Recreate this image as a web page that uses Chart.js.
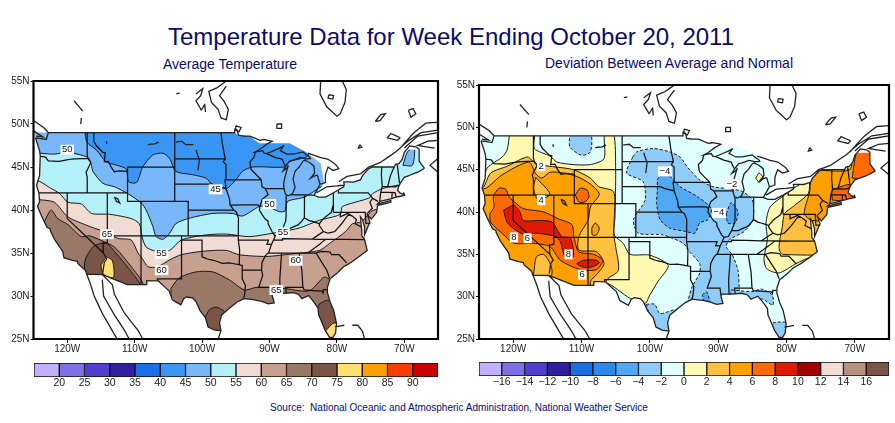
<!DOCTYPE html>
<html>
<head>
<meta charset="utf-8">
<title>Temperature Data for Week Ending October 20, 2011</title>
<script src="https://cdn.jsdelivr.net/npm/chart.js@4/dist/chart.umd.js"></script>
<style>
  body { margin: 0; background: #fff; width: 895px; height: 423px; overflow: hidden; position: relative; font-family: "Liberation Sans", Arial, sans-serif; color: #0b0b70; }
  canvas { position: absolute; }
  .txt { position: absolute; white-space: pre; text-align: center; }
</style>
</head>
<body>
<div class="txt" style="left:0;width:902px;top:23px;font-size:24px;">Temperature Data for Week Ending October 20, 2011</div>
<div class="txt" style="left:100px;width:260px;top:56px;font-size:14px;">Average Temperature</div>
<div class="txt" style="left:500px;width:338px;top:55px;font-size:14px;">Deviation Between Average and Normal</div>
<div class="txt" style="left:200px;width:518px;top:402px;font-size:10px;">Source:  National Oceanic and Atmospheric Administration, National Weather Service</div>
<canvas id="map-avg" width="445" height="295" style="left:0;top:70px"></canvas>
<canvas id="map-dev" width="450" height="295" style="left:445px;top:70px"></canvas>
<canvas id="bar-avg" width="445" height="42" style="left:0;top:353px"></canvas>
<canvas id="bar-dev" width="450" height="42" style="left:445px;top:353px"></canvas>
<script>
// axes
const lonTicks = [-120, -110, -100, -90, -80, -70];
const latTicks = [25, 30, 35, 40, 45, 50, 55];
const frameBox = [[-125, 25], [-125, 55], [-65, 55], [-65, 25], [-125, 25]];

// colour bars
const avgBarColors = ['#c0b0ff', '#8070e8', '#5040d0', '#3020a0', '#1a6ee8', '#3a96f5', '#78b8fa', '#b4f0f8', '#f0dcd2', '#c8a090', '#9a7868', '#7a5548', '#ffe070', '#ffa000', '#ff3c00', '#cc0000'];
const avgBarLabels = ['20', '25', '30', '35', '40', '45', '50', '55', '60', '65', '70', '75', '80', '85', '90'];
const devBarColors = ['#c0b0ff', '#8070e8', '#5040d0', '#3020a0', '#1a6ee0', '#2a88ee', '#50a8f5', '#90ccf8', '#e0ffff', '#fff8b0', '#ffc040', '#ffa000', '#ff6a00', '#e01a00', '#a50000', '#f0dcd2', '#b89080', '#7a5548'];
const devBarLabels = ['\u221216', '\u221214', '\u221212', '\u221210', '\u22128', '\u22126', '\u22124', '\u22122', '0', '2', '4', '6', '8', '10', '12', '14', '16'];

// coast from Maine round Florida and Texas up to Washington
const coastSouth = [[-67, 44.85], [-68, 44.4], [-69, 44.1], [-70, 43.8], [-70.6, 43.1], [-70.8, 42.8], [-71, 42.3], [-70.6, 41.95], [-70, 41.8], [-70.1, 42.05], [-69.95, 41.7], [-71.2, 41.5], [-72, 41.3], [-73.6, 41], [-74, 40.7], [-72, 41.1], [-72, 40.9], [-73.9, 40.55], [-74, 40.4], [-74.1, 39.7], [-74.9, 38.95], [-75.4, 39.4], [-75.55, 39.6], [-75.1, 38.6], [-75.9, 37.1], [-75.9, 38], [-76.2, 38.9], [-76.5, 39.2], [-76.4, 38.3], [-76.3, 37.6], [-76.3, 37], [-75.9, 36.6], [-75.5, 35.3], [-76.5, 34.7], [-77.9, 33.9], [-79, 33.4], [-79.9, 32.7], [-81, 32], [-81.4, 31], [-81.4, 30.4], [-81, 29.3], [-80.5, 28.4], [-80.05, 26.8], [-80.2, 25.7], [-80.6, 25.15], [-81.1, 25.2], [-81.8, 26.1], [-82.2, 26.9], [-82.7, 27.8], [-82.8, 28.6], [-83.6, 29.5], [-84.2, 30.05], [-85.2, 29.7], [-85.7, 30.2], [-86.5, 30.4], [-88, 30.3], [-89.4, 30.3], [-89.6, 30.1], [-89.3, 29.2], [-90.2, 29.1], [-91.3, 29.4], [-92.2, 29.55], [-93.8, 29.7], [-94.8, 29.3], [-95.9, 28.6], [-97.1, 27.8], [-97.4, 26.9], [-97.2, 25.95], [-98.2, 26.05], [-99.1, 26.4], [-99.5, 27.5], [-100.3, 28.3], [-100.9, 29.35], [-101.4, 29.77], [-102.3, 29.88], [-102.7, 29.7], [-103.15, 28.98], [-104.4, 29.55], [-104.9, 30.6], [-106.5, 31.75], [-108.2, 31.78], [-108.2, 31.33], [-111.07, 31.33], [-114.8, 32.5], [-117.1, 32.53], [-117.3, 33], [-118.4, 33.75], [-118.5, 34.03], [-119.2, 34.15], [-120.5, 34.45], [-120.65, 35.15], [-121.9, 36.6], [-122.5, 37.6], [-122.5, 37.8], [-123, 38], [-123.8, 39.3], [-124.4, 40.4], [-124.1, 41], [-124.2, 42], [-124.55, 42.85], [-124.1, 44], [-124, 46.3], [-124.1, 46.9], [-124.7, 48.4]];
// north edge of the plotted field, it runs over the upper lakes
const fieldNorth = [[-124.8, 49], [-95.15, 49], [-94.6, 48.7], [-93, 48.6], [-91.5, 47.75], [-87, 47.75], [-84.3, 46.6], [-82.4, 45.4], [-81.9, 43.3], [-82.6, 42.1], [-83.4, 41.5], [-82.7, 41.5], [-81.7, 41.5], [-80.5, 42], [-79, 42.7], [-78.9, 43.2], [-77.5, 43.3], [-76.5, 43.5], [-76.2, 44], [-75.3, 44.8], [-74.7, 45], [-71.5, 45], [-71, 45.3], [-70.3, 45.9], [-70, 46.7], [-69.5, 47], [-67.8, 47], [-67.8, 45.7], [-67.45, 45.3], [-67, 44.85]];

// black base map lines
const coastNorth = [[-124.7, 48.4], [-123.1, 48.2], [-122.8, 49], [-95.15, 49], [-95.15, 49.4], [-94.8, 49.3], [-94.6, 48.7], [-93.8, 48.6], [-92.9, 48.6], [-92, 48.3], [-91.4, 48.1], [-90.8, 48.2], [-89.6, 48], [-90.5, 47.6], [-91.5, 47], [-92.1, 46.75], [-91, 46.9], [-90.8, 46.6], [-90.4, 46.55], [-89.5, 46.85], [-88.5, 47.2], [-87.9, 47.47], [-88.4, 46.9], [-87.4, 46.5], [-86.5, 46.5], [-85, 46.75], [-84.6, 46.45], [-84.1, 46.2], [-83.9, 45.97], [-84.7, 45.95], [-85.5, 46.1], [-86.5, 45.8], [-87, 45.7], [-87.6, 45.1], [-88, 44.55], [-87.4, 44.9], [-87.2, 45.2], [-87.5, 44.4], [-87.8, 43.5], [-87.9, 43], [-87.8, 42.3], [-87.6, 41.8], [-87.2, 41.65], [-86.6, 41.9], [-86.2, 42.6], [-86.5, 43.6], [-86.2, 44.5], [-85.6, 45], [-85, 45.7], [-84.7, 45.78], [-84, 45.5], [-83.4, 45.1], [-83.3, 44.3], [-83.9, 43.7], [-83.4, 43.95], [-82.9, 44.05], [-82.5, 43], [-82.9, 42.4], [-83.2, 42], [-83.4, 41.7], [-82.7, 41.5], [-81.7, 41.5], [-80.5, 42], [-79, 42.7], [-78.9, 43], [-79, 43.27], [-77.5, 43.25], [-76.5, 43.5], [-76.2, 44], [-75.3, 44.8], [-74.7, 45], [-71.5, 45], [-71.3, 45.3], [-70.8, 45.4], [-70.3, 45.9], [-70, 46.7], [-69.2, 47.45], [-68.3, 47.35], [-67.8, 47.07], [-67.8, 45.7], [-67.45, 45.3], [-67, 44.85]];
const canadaLines = [
  [[-84.3, 46.6], [-82.4, 46.1], [-81.3, 45.9], [-80.2, 45.3], [-79.7, 44.8], [-80.6, 44.6], [-81.3, 45], [-81.7, 44.1], [-81.7, 43.2], [-82.4, 43]],
  [[-83, 42], [-81.5, 42.7], [-80, 42.8], [-79, 42.9]],
  [[-79.7, 43.3], [-78.5, 43.9], [-76.5, 44.2], [-75.3, 45], [-73.6, 45.5], [-71.2, 46.8], [-69.5, 48], [-67.5, 49], [-65, 49.3]],
  [[-70, 47.2], [-68, 48.6], [-65, 49]],
  [[-65, 48.1], [-66.5, 48], [-68, 47.5], [-65.5, 47.2]],
  [[-65, 46], [-66.2, 45.2], [-65, 44.4]],
  [[-65, 50.2], [-66.8, 50.1], [-68.7, 48.9], [-70.7, 47.1]],
  [[-70.6, 48.4], [-72, 48.9], [-72.5, 48.4], [-71, 48.1], [-70.6, 48.4]],
  [[-76.6, 47.6], [-76.3, 47.3], [-76.8, 47.2], [-76.6, 47.6]],
  [[-74.3, 50.3], [-73.5, 51.1], [-72.8, 51.2], [-73.6, 50.4], [-74.3, 50.3]],
  [[-69.4, 51.6], [-68.7, 51.8], [-68.3, 51.2], [-69, 50.8], [-69.4, 51.6]],
  [[-82.4, 55], [-82.5, 53.5], [-81.5, 52], [-80, 50.9], [-79.5, 51.2], [-78.8, 52.5], [-78.6, 54], [-79.2, 55]],
  [[-81.2, 53.4], [-80.5, 53.3], [-80.6, 52.9], [-81.3, 53], [-81.2, 53.4]],
  [[-88.9, 50], [-88.2, 50], [-88.2, 49.5], [-88.9, 49.5], [-88.9, 50]],
  [[-95, 49.8], [-94.2, 49.6], [-94.5, 49.1], [-95, 49.3], [-95, 49.8]],
  [[-96.4, 55], [-97.8, 54.2], [-99, 53.8], [-98.6, 52.5], [-97.6, 51.7], [-97.2, 50.7], [-96.4, 50.5], [-96.1, 51.7], [-96.7, 52.6], [-97.4, 53.3], [-96.4, 54.4]],
  [[-100.9, 53.5], [-99.9, 54.1], [-100.2, 53.3], [-100.9, 52.7], [-100.1, 51.6], [-99.6, 52.3], [-99.5, 51.4]],
  [[-103.8, 53.5], [-103.3, 53.6]],
  [[-119, 52.7], [-117.7, 51.5]],
  [[-117.9, 50.7], [-118, 50]],
  [[-125, 50.4], [-123.5, 49.6], [-122.8, 49]],
  [[-125, 49.2], [-123.6, 48.5], [-124.6, 48.6]]
];
const mexicoLines = [
  [[-117.1, 32.53], [-116.6, 31.5], [-116, 30], [-114.8, 28], [-112.6, 25]],
  [[-114.8, 31.9], [-114.6, 30], [-113, 27.8], [-111.5, 26], [-110.8, 25]],
  [[-114.8, 32.5], [-113.3, 31.3], [-113, 30.2], [-111.5, 28], [-109.5, 26], [-108.8, 25]],
  [[-97.2, 25.95], [-97.6, 25]],
  [[-77.7, 26.6], [-76.9, 26.6], [-76.2, 25.9], [-75.9, 25]],
  [[-80.3, 26.4], [-78.9, 26.6]]
];
const inlandLakes = [
  [[-113, 41.5], [-112.5, 41.3], [-112.2, 40.8], [-112.7, 41], [-113, 41.5]],
  [[-114.2, 48], [-114.1, 47.7]],
  [[-108, 47.6], [-107, 47.7], [-106.4, 47.9]],
  [[-103.9, 47.9], [-103, 48], [-102.4, 47.6], [-101.3, 47.6]],
  [[-100.9, 47], [-100.4, 45.8], [-100.6, 44.6]]
];
const stateLines = [
  [[-124, 46.25], [-123.2, 46.15], [-122.8, 45.7], [-121.2, 45.65], [-119.3, 45.93], [-116.92, 46]],
  [[-117.03, 49], [-117.04, 46.4], [-116.92, 46], [-116.5, 45.5], [-117.2, 44.4], [-117.03, 43.8], [-117.03, 42]],
  [[-116.05, 49], [-116.05, 48], [-115.7, 47.5], [-114.7, 46.7], [-114.35, 46.65], [-114.5, 45.6], [-113.9, 45.65], [-113.45, 44.95], [-113, 44.45], [-112.3, 44.55], [-111.05, 44.48]],
  [[-111.05, 45], [-111.05, 41], [-109.05, 41]],
  [[-111.05, 45], [-104.05, 45]],
  [[-104.05, 49], [-104.05, 41]],
  [[-124.2, 42], [-111.05, 42]],
  [[-120, 42], [-120, 39], [-114.63, 35], [-114.15, 34.3], [-114.5, 33.9], [-114.72, 32.72]],
  [[-114.05, 42], [-114.05, 36.2], [-114.7, 36.1], [-114.63, 35]],
  [[-114.05, 37], [-102.04, 37]],
  [[-109.05, 41], [-109.05, 31.33]],
  [[-109.05, 41], [-102.05, 41], [-102.05, 37]],
  [[-102.05, 40], [-95.3, 40]],
  [[-103.04, 37], [-103.04, 32], [-106.62, 32], [-106.55, 31.78]],
  [[-102.04, 37], [-94.62, 37]],
  [[-103.04, 36.5], [-100, 36.5], [-100, 34.56], [-99.2, 34.3], [-98.1, 34.1], [-97, 33.8], [-96, 33.85], [-94.5, 33.65], [-94.04, 33.55], [-94.04, 31.99], [-93.55, 31.2], [-93.7, 30.1], [-93.85, 29.7]],
  [[-104.05, 45.94], [-96.56, 45.94]],
  [[-104.05, 43], [-98.5, 43], [-97.9, 42.8], [-96.45, 42.5]],
  [[-97.2, 49], [-97, 47.8], [-96.8, 46.9], [-96.56, 45.94], [-96.85, 45.6], [-96.45, 45.3], [-96.45, 43.5], [-96.6, 43.5], [-96.45, 42.5], [-96.1, 41.7], [-95.9, 41.2], [-95.85, 40.6], [-95.3, 40], [-94.9, 39.75], [-94.6, 39.1], [-94.62, 36.5], [-94.43, 35.4], [-94.48, 33.64]],
  [[-94.62, 36.5], [-90.15, 36.5], [-90.37, 36], [-89.7, 36]],
  [[-94.04, 33], [-91.17, 33]],
  [[-96.45, 43.5], [-91.22, 43.5]],
  [[-95.77, 40.58], [-91.73, 40.61], [-91.42, 40.38]],
  [[-92.1, 46.75], [-92.3, 46.1], [-92.9, 45.6], [-92.75, 44.75], [-91.22, 43.5], [-91.1, 42.7], [-90.64, 42.5], [-90.2, 41.8], [-91.1, 41.2], [-91.42, 40.38], [-91.5, 40], [-90.7, 39], [-90.2, 38.7], [-90.2, 38.4], [-89.5, 37.3], [-89.15, 37], [-89.4, 36.5], [-89.7, 36], [-90.1, 35.1], [-90.6, 34.7], [-91.1, 33.9], [-91.17, 33], [-91, 32.4], [-91.6, 31], [-89.73, 31], [-89.6, 30.2]],
  [[-90.64, 42.5], [-87.8, 42.5]],
  [[-90.4, 46.55], [-89.1, 46.1], [-88.1, 45.9], [-87.8, 45.35], [-87.6, 45.1]],
  [[-87.53, 41.7], [-87.53, 39.35], [-87.6, 38.7], [-88.05, 37.8], [-88.5, 37.1], [-89.15, 37]],
  [[-88.05, 37.8], [-87.1, 37.8], [-86.3, 38.1], [-85.75, 38.27], [-85.2, 38.7], [-84.82, 39.1], [-84.2, 38.8], [-83.3, 38.6], [-82.6, 38.4], [-82.1, 38.9], [-81.7, 39.2], [-80.85, 39.7], [-80.52, 40.64]],
  [[-80.52, 39.72], [-80.52, 42]],
  [[-84.82, 39.1], [-84.8, 41.76]],
  [[-86.82, 41.76], [-83.45, 41.73]],
  [[-89.4, 36.5], [-88.07, 36.5], [-88.07, 36.68], [-83.68, 36.6], [-81.68, 36.59], [-75.87, 36.55]],
  [[-83.68, 36.6], [-82, 37.5], [-82.6, 38.2], [-82.6, 38.4]],
  [[-82, 37.5], [-81.3, 37.3], [-80.3, 37.5], [-79.3, 38.4], [-78.35, 39.4], [-77.75, 39.32], [-77.1, 38.9], [-77.3, 38.4], [-76.3, 38]],
  [[-77.75, 39.32], [-78.4, 39.6], [-79.48, 39.2], [-79.48, 39.72]],
  [[-80.52, 39.72], [-75.79, 39.72], [-75.7, 38.46], [-75.05, 38.45]],
  [[-79.76, 42.27], [-79.76, 42], [-75.35, 42], [-74.7, 41.36], [-75.1, 40.9], [-74.75, 40.2], [-75.5, 39.6]],
  [[-74.7, 41.36], [-73.9, 41]],
  [[-73.65, 41], [-73.5, 42.05], [-73.27, 42.75], [-73.4, 44], [-73.35, 45]],
  [[-73.5, 42.05], [-71.38, 42.02], [-71.2, 41.5]],
  [[-71.8, 42.02], [-71.85, 41.3]],
  [[-73.27, 42.75], [-71.3, 42.7], [-70.8, 42.87]],
  [[-72.46, 42.73], [-72.05, 44], [-71.5, 45]],
  [[-70.7, 43.1], [-71.05, 45.3]],
  [[-84.32, 35], [-83.1, 35], [-82.3, 35.2], [-81, 35.1], [-80.8, 34.8], [-79.67, 34.8], [-78.55, 33.86]],
  [[-81.68, 36.59], [-82.6, 36], [-84.32, 35]],
  [[-83.1, 35], [-81.5, 33], [-81.1, 32.1]],
  [[-90.3, 35], [-84.32, 35]],
  [[-85.6, 35], [-85.18, 32.87], [-85.05, 31], [-87.6, 31], [-87.5, 30.3]],
  [[-85, 31], [-84.86, 30.7], [-82.2, 30.57], [-82.05, 30.36], [-82, 30.75], [-81.45, 30.72]],
  [[-88.2, 35], [-88.47, 31.9], [-88.4, 30.3]]
];

// average temperature: contours, coldest and warmest layers nested
const avgBelow50 = [[-125, 46.8], [-123.9, 46.6], [-121.9, 46.5], [-120, 46.7], [-116.9, 46.1], [-116.4, 45.2], [-116.2, 44.5], [-114.7, 43.1], [-113, 42.7], [-111, 41.9], [-109, 40.8], [-108.3, 40], [-107.3, 38.1], [-106.8, 36.9], [-105.8, 36.6], [-104.8, 37.3], [-103.9, 38.4], [-102.1, 39], [-98.4, 39.6], [-95.5, 39.6], [-94, 39.3], [-91.5, 40.4], [-90.3, 40.4], [-88.5, 39.8], [-87.7, 39.9], [-87.3, 41], [-84.8, 41.5], [-82.1, 42.8], [-80.6, 43.1], [-80.6, 49.5], [-126, 49.5], [-126, 46.8], [-125, 46.8]];
const avgBelow50Maine = [[-70.2, 45.2], [-69.5, 46.8], [-68.5, 47.2], [-68.8, 45.2], [-70.2, 45.2]];
const avgBelow45 = [[-117.4, 49.3], [-117.1, 47.9], [-115.7, 47], [-114.2, 45.6], [-111.3, 44.8], [-110.9, 43.3], [-109.7, 43.2], [-108.8, 45], [-107.3, 46.4], [-105.8, 46.6], [-104.8, 46], [-103.9, 44.5], [-101.4, 44.1], [-99.4, 43.7], [-98.4, 42.9], [-96.4, 42.5], [-95, 43.5], [-94, 44.5], [-92.5, 45], [-87.8, 45], [-87.1, 45.6], [-84.3, 46.3], [-84.1, 47.8], [-84, 49.7], [-117.4, 49.7], [-117.4, 49.3]];
const avgAbove55 = [[-125.5, 43.4], [-124.3, 43.4], [-122.6, 42.6], [-121.1, 41.9], [-119.9, 40.9], [-117.9, 40.7], [-116.4, 39.6], [-113.7, 39.5], [-110.5, 39], [-109.3, 38.4], [-108.9, 36.9], [-108.3, 35.7], [-106.8, 35.2], [-104.8, 35.3], [-103.1, 36.5], [-99.4, 37.1], [-96.4, 37.2], [-93, 36.9], [-89.5, 37.3], [-88, 37.5], [-85.6, 37.9], [-82.6, 38.8], [-80.1, 39.3], [-79.4, 39.6], [-79.2, 40.4], [-75.2, 41.4], [-74.7, 41.9], [-73.2, 42.5], [-70.8, 42.9], [-69.3, 42.9], [-66, 42.9], [-66, 24], [-125.5, 24], [-125.5, 43.4]];
const avgAbove60 = [[-125.5, 41.2], [-124.2, 41.2], [-121.9, 40.9], [-119.9, 39.2], [-116.7, 38.1], [-114.2, 37.4], [-112.5, 36.7], [-110.5, 36.5], [-109.5, 35], [-108.9, 34.4], [-108, 33.4], [-106.6, 33.4], [-104.8, 34.2], [-103.1, 34.8], [-99.9, 35.2], [-96.4, 35.3], [-94.5, 34.8], [-90.5, 34.6], [-86.6, 34.9], [-82.6, 35.3], [-81.1, 36.1], [-78.7, 37.5], [-77.7, 38.4], [-76.4, 38.6], [-74.5, 40], [-66, 40], [-66, 24], [-125.5, 24], [-125.5, 41.2]];
const avgAbove65West = [[-123.4, 38.6], [-122.4, 40], [-121.4, 39], [-119.9, 38.3], [-117.9, 36.9], [-116.7, 37], [-114.5, 36.3], [-113, 35.7], [-111.5, 34.4], [-110.3, 33.2], [-109.3, 32.2], [-108.7, 31.3], [-108.7, 30.3], [-120.2, 30.3], [-125, 36.9], [-123.4, 38.6]];
const avgAbove65East = [[-104.6, 30.9], [-103.4, 32.1], [-100.9, 32.8], [-98.4, 32.8], [-96, 31.9], [-93.7, 30.7], [-92, 31], [-88, 30.9], [-84.1, 30.6], [-81.9, 32.2], [-80.9, 31.9], [-77, 31.9], [-77, 24.5], [-104, 24.5], [-104.6, 28], [-104.6, 30.9]];
const avgAbove70West = [[-117.3, 32.2], [-117.4, 34], [-116.2, 35.7], [-114.3, 36.2], [-113, 35.2], [-111.5, 33.8], [-110.3, 32.6], [-109.3, 31.5], [-109.3, 30.3], [-117.3, 30.3], [-117.3, 32.2]];
const avgAbove70Texas = [[-99.5, 27.6], [-98.9, 28.4], [-97.9, 28.7], [-96.7, 28.2], [-96, 26.4], [-96, 24.9], [-99.5, 24.9], [-99.5, 27.6]];
const avgAbove70Florida = [[-82.6, 29.1], [-81.4, 29.5], [-80.1, 28.8], [-79.2, 26.4], [-81.4, 25.5], [-83.1, 27.6], [-82.6, 29.1]];
const avgAbove75West = [[-115, 33.6], [-114.2, 34.5], [-113.3, 34.1], [-113.1, 32.2], [-114.2, 32.2], [-114.8, 32.8], [-115, 33.6]];
const avgAbove75Florida = [[-81.6, 26], [-80.6, 26.8], [-79.9, 26.8], [-79.2, 25.3], [-80.6, 24.5], [-82.1, 25.3], [-81.6, 26]];
const avgContourLabels = [[-120, 47, '50'], [-98, 42.4, '45'], [-90, 40.7, '50'], [-88, 37.4, '55'], [-106, 34.9, '55'], [-106, 33, '60'], [-114.1, 37.2, '65'], [-86.1, 34.1, '60'], [-89, 30.7, '65']];

// deviation from normal
const devAbove0West = [[-120.5, 49.3], [-117, 49.3], [-116.9, 47.5], [-114.6, 46.6], [-113.6, 45.9], [-111.2, 45.6], [-108.7, 45.6], [-106.7, 46.3], [-106.6, 49.3], [-105.3, 49.3], [-105, 45], [-105.1, 39.4], [-105.2, 37.3], [-103.9, 36.3], [-102.9, 35], [-100, 34.9], [-97.3, 33.7], [-98.8, 31.8], [-100, 30.2], [-100.7, 29.2], [-102.9, 29.8], [-106.3, 31.6], [-106.3, 30], [-118, 30], [-125.7, 36], [-125.7, 43.4], [-124.5, 43.4], [-123.8, 45.2], [-121.6, 46.5], [-120.9, 47.3], [-120.5, 49.3]];
const devAbove0East = [[-80.3, 42], [-82.4, 40.6], [-83, 38.7], [-82.8, 36.7], [-83.3, 34.5], [-82.9, 33.3], [-81.1, 32.8], [-78.6, 33.9], [-76.2, 34.7], [-64, 34.7], [-64, 48.9], [-70.6, 48.9], [-70.6, 47.3], [-71.4, 45.6], [-75, 45.2], [-76.2, 44], [-78.6, 43], [-80.3, 42]];
const devAbove0Michigan = [[-84.5, 44], [-84, 44.6], [-83.4, 44], [-84, 43.5], [-84.5, 44]];
const devAbove2West = [[-125.7, 42.9], [-124.4, 42.9], [-123.3, 44.6], [-120.9, 45.4], [-117.9, 46.5], [-116.7, 45.7], [-114.6, 45.4], [-111.2, 45], [-108.7, 44], [-107.5, 43], [-105.3, 42.4], [-105.2, 39.4], [-105.3, 37.5], [-105, 35.9], [-104.6, 33.1], [-106.3, 32], [-107.3, 30], [-118, 30], [-125.7, 36], [-125.7, 42.9]];
const devAbove2East = [[-64, 35], [-80.6, 35], [-81.1, 35.9], [-80.6, 38.3], [-80.3, 39.8], [-79.1, 40.6], [-76.8, 42.2], [-76.5, 43.8], [-75, 45], [-71.4, 45.3], [-70.6, 47.1], [-70.6, 49.1], [-64, 49.1], [-64, 35]];
const devAbove4West = [[-125.7, 42.8], [-124, 42.8], [-121.6, 44.4], [-117.7, 45.9], [-116.7, 44.5], [-115.8, 44], [-114.6, 44.7], [-112.6, 44.6], [-110.7, 44.2], [-108.7, 43.3], [-107.4, 42.1], [-108.7, 40.6], [-109, 39.1], [-110.4, 37.1], [-110.4, 35.5], [-107.8, 35.3], [-106.7, 33.9], [-107.8, 32.6], [-108.7, 31.8], [-108.7, 30], [-114.6, 30], [-114.3, 33], [-114.6, 33.9], [-115.5, 35], [-116.6, 34.7], [-117, 32.8], [-118, 30], [-125.7, 36], [-125.7, 42.8]];
const devBelow4Idaho = [[-116.7, 44.1], [-114.6, 42.1], [-116.4, 41.5], [-117, 42.8], [-116.7, 44.1]];
const devAbove4Colorado = [[-108.5, 38.1], [-108, 38.7], [-107.4, 38.1], [-107.8, 37.3], [-108.4, 37.3], [-108.5, 38.1]];
const devAbove4East = [[-75.2, 44.9], [-76.4, 43.8], [-76.6, 42.4], [-77.4, 39.8], [-76.2, 39], [-64, 39], [-64, 49], [-70.6, 49], [-70.6, 45.1], [-75.2, 44.9]];
const devAbove6West = [[-123.4, 39.8], [-122.8, 40.6], [-122.9, 41.8], [-122.1, 42.8], [-121.1, 42.7], [-120.6, 41.8], [-119.7, 41.1], [-118.5, 40.4], [-115.5, 40], [-113.4, 39.2], [-111.4, 38.5], [-111.1, 37.1], [-110.4, 35.3], [-108.2, 35], [-106.9, 34.3], [-107.8, 33.2], [-110.2, 33.2], [-113.1, 34.3], [-114.6, 35.9], [-117, 36.3], [-119.9, 36.3], [-121.1, 37.1], [-123.3, 38.8], [-123.4, 39.8]];
const devAbove6Wyoming = [[-110.9, 42], [-110.2, 42.8], [-109.2, 42.6], [-108.9, 41.8], [-109.5, 41.2], [-110.4, 41.2], [-110.9, 42]];
const devAbove6Maine = [[-70.4, 44], [-69.5, 47.5], [-67, 47.5], [-67, 44], [-70.4, 44]];
const devAbove6Mass = [[-73.3, 41.4], [-73.3, 42.5], [-72, 43], [-70.8, 43.2], [-70.5, 41.4], [-73.3, 41.4]];
const devAbove8West = [[-121.4, 40.2], [-119.9, 40.8], [-119, 40], [-118.5, 39], [-116, 39], [-114.3, 38.8], [-112.9, 37.1], [-111.6, 36.9], [-111.2, 34.7], [-112.4, 34.7], [-113.1, 36.5], [-113.8, 37.1], [-116.7, 37.5], [-118.2, 37.3], [-119.7, 37.9], [-120.9, 38.8], [-121.4, 40.2]];
const devAbove8Arizona = [[-110.7, 33.9], [-109.7, 34.3], [-107.8, 34.3], [-107.4, 34], [-108.5, 33.5], [-109.9, 33.5], [-110.7, 33.9]];
const devBelow2Central = [[-102.5, 46.5], [-101.9, 47.1], [-99.5, 47.5], [-97.1, 47.1], [-95.6, 46.5], [-94.4, 45.2], [-92.7, 43.8], [-90.8, 43], [-87.9, 42.7], [-86.4, 42.4], [-85, 41.4], [-84.9, 39.1], [-86.2, 37.7], [-88.4, 36.7], [-88.8, 35.9], [-87.9, 34.9], [-87.1, 33.1], [-86.9, 30.4], [-86.9, 29.2], [-94.2, 29.2], [-93.9, 31], [-92.7, 32.8], [-92.7, 33.9], [-94.4, 35.5], [-95.1, 36.3], [-98.1, 37.3], [-101.7, 37.5], [-102.4, 39.1], [-100.7, 41.4], [-101, 43.6], [-103.4, 44.6], [-102.5, 46.5]];
const devBelow2Montana = [[-111.7, 49.3], [-111.7, 47.7], [-110, 46.7], [-108.7, 47.1], [-108.7, 49.3], [-111.7, 49.3]];
const devBelow2Texas = [[-100.5, 29.1], [-99.3, 29.1], [-98.5, 28], [-96.1, 28.4], [-96.1, 25.2], [-98.8, 25.2], [-100, 27.6], [-100.5, 29.1]];
const devBelow2Gulf = [[-88.1, 30.8], [-84.9, 30.6], [-83.7, 30.9], [-82.1, 30.2], [-82, 29], [-83.5, 29.7], [-85.4, 29.7], [-88.1, 29.8], [-88.1, 30.8]];
const devBelow2Florida = [[-82, 26.9], [-81.3, 27], [-80, 26.9], [-79.6, 25.3], [-81, 24.9], [-82, 25.3], [-82, 26.9]];
const devBelow4Central = [[-98.9, 42.6], [-98.8, 44], [-97.6, 44.5], [-96.5, 43.8], [-95.6, 43], [-93, 41.8], [-91, 40.4], [-91.5, 39.1], [-92.7, 38.7], [-93.4, 37.5], [-94.7, 37.7], [-97.1, 38.1], [-98.5, 39.1], [-99, 41], [-98.9, 42.6]];
const devBelow4Illinois = [[-88.8, 39.8], [-88.1, 41.1], [-87.1, 40], [-87.5, 38.7], [-88.6, 38.7], [-88.8, 39.8]];
const devBelow4Louisiana = [[-92.3, 30.2], [-91.7, 30.6], [-91.3, 29.5], [-92.1, 29.5], [-92.3, 30.2]];
const devContourLabels = [[-115.9, 45.4, '2'], [-115.9, 41.4, '4'], [-97.8, 44.8, '\u22124'], [-88, 43.3, '\u22122'], [-89.9, 39.9, '\u22124'], [-119.9, 37, '8'], [-117.9, 36.9, '6'], [-111.9, 35, '8'], [-109.9, 32.6, '6']];

const toPoints = list => list.map(([x, y]) => ({ x, y }));
const joinLines = lines => lines.flatMap(l => [...toPoints(l), { x: NaN, y: NaN }]);

function band(points, color, dashed) {
  return {
    data: toPoints(points), showLine: true, pointRadius: 0, tension: 0.25,
    fill: 'shape', backgroundColor: color,
    borderColor: '#1a1a1a', borderWidth: 1, borderDash: dashed ? [3, 2] : [],
  };
}
// tiny tension keeps Chart.js off its fast path, which merges points in the same pixel column
function lineSet(points, width, color) {
  return { data: points, showLine: true, pointRadius: 0, tension: 0.001, fill: false, spanGaps: false, borderColor: color, borderWidth: width };
}
// white sheet with a hole in the shape of the plotted field, hole wound the other way round
function outsideMask() {
  const box = [[-127, 23], [-127, 57], [-63, 57], [-63, 23], [-127, 23]];
  const edge = [...fieldNorth, ...coastSouth, fieldNorth[0]].reverse();
  return { data: toPoints([...box, ...edge, box[0]]), showLine: true, pointRadius: 0, tension: 0.001, fill: 'shape', backgroundColor: '#fff', borderWidth: 0 };
}
function baseMapSets() {
  return [
    outsideMask(),
    lineSet(joinLines(stateLines), 1.25, '#111'),
    lineSet(joinLines([coastSouth, coastNorth, ...canadaLines, ...mexicoLines, ...inlandLakes]), 1.3, '#222'),
    { ...lineSet(toPoints(frameBox), 2.2, '#000'), clip: false },
  ];
}

const contourLabelPlugin = {
  id: 'contourLabels',
  afterDatasetsDraw(chart, args, opts) {
    const { ctx, scales } = chart;
    ctx.save();
    ctx.font = '9.5px "Liberation Sans"';
    ctx.textAlign = 'center';
    ctx.textBaseline = 'middle';
    opts.items.forEach(([lon, lat, text]) => {
      const px = scales.x.getPixelForValue(lon), py = scales.y.getPixelForValue(lat);
      const w = ctx.measureText(text).width + 3;
      ctx.fillStyle = '#fff';
      ctx.fillRect(px - w / 2, py - 5, w, 10);
      ctx.fillStyle = '#111';
      ctx.fillText(text, px, py);
    });
    ctx.restore();
  },
};

function buildMap(id, bands, labels, pad) {
  const tickFont = { family: 'Liberation Sans', size: 10 };
  new Chart(document.getElementById(id), {
    type: 'scatter',
    // first dataset ends up on top, so paint order is reversed here
    data: { datasets: [...bands, ...baseMapSets()].reverse() },
    plugins: [contourLabelPlugin],
    options: {
      responsive: false,
      animation: false,
      layout: { padding: { top: pad.top, right: pad.right, left: 0, bottom: 0 } },
      plugins: { legend: { display: false }, tooltip: { enabled: false }, contourLabels: { items: labels } },
      scales: {
        x: {
          min: -125, max: -65,
          afterBuildTicks: s => { s.ticks = lonTicks.map(value => ({ value })); },
          afterFit: s => { s.height = 26; },
          ticks: { callback: v => Math.abs(v) + 'W', color: '#222', font: tickFont, padding: 0, maxRotation: 0, autoSkip: false },
          grid: { drawOnChartArea: false, tickLength: 4, color: '#000' },
          border: { display: false },
        },
        y: {
          min: 25, max: 55,
          afterBuildTicks: s => { s.ticks = latTicks.map(value => ({ value })); },
          afterFit: s => { s.width = pad.left; },
          ticks: { callback: v => v + 'N', color: '#222', font: tickFont, padding: 1, autoSkip: false },
          grid: { drawOnChartArea: false, tickLength: 3, color: '#000' },
          border: { display: false },
        },
      },
    },
  });
}

function buildColorBar(id, colors, labels, pad) {
  new Chart(document.getElementById(id), {
    type: 'bar',
    data: {
      labels: [''],
      datasets: colors.map(c => ({ data: [1], backgroundColor: c, borderColor: '#111', borderWidth: 1, borderSkipped: false, barPercentage: 1, categoryPercentage: 1 })),
    },
    options: {
      indexAxis: 'y',
      responsive: false,
      animation: false,
      layout: { padding: { top: pad.top, left: pad.left, right: pad.right, bottom: 0 } },
      plugins: { legend: { display: false }, tooltip: { enabled: false } },
      scales: {
        x: {
          type: 'linear', stacked: true, min: 0, max: colors.length,
          afterFit: s => { s.height = pad.axis; },
          ticks: { stepSize: 1, autoSkip: false, maxRotation: 0, padding: 0, color: '#222', font: { family: 'Liberation Sans', size: 10.5 }, callback: v => labels[v - 1] || '' },
          grid: { display: false, drawTicks: false },
          border: { display: false },
        },
        y: { stacked: true, display: false },
      },
    },
  });
}

buildMap('map-avg', [
  band(frameBox, '#b4f0f8'),
  band(avgBelow50, '#78b8fa'),
  band(avgBelow50Maine, '#78b8fa'),
  band(avgBelow45, '#3a96f5'),
  band(avgAbove55, '#f0dcd2'),
  band(avgAbove60, '#c8a090'),
  band(avgAbove65West, '#9a7868'),
  band(avgAbove65East, '#9a7868'),
  band(avgAbove70West, '#7a5548'),
  band(avgAbove70Texas, '#7a5548'),
  band(avgAbove70Florida, '#7a5548'),
  band(avgAbove75West, '#ffe070'),
  band(avgAbove75Florida, '#ffe070'),
], avgContourLabels, { left: 33.5, right: 7, top: 11 });

buildMap('map-dev', [
  band(frameBox, '#e0ffff'),
  band(devBelow2Central, '#90ccf8', true),
  band(devBelow2Montana, '#90ccf8', true),
  band(devBelow2Texas, '#90ccf8', true),
  band(devBelow2Gulf, '#90ccf8', true),
  band(devBelow2Florida, '#90ccf8', true),
  band(devBelow4Central, '#50a8f5', true),
  band(devBelow4Illinois, '#50a8f5', true),
  band(devBelow4Louisiana, '#50a8f5', true),
  band(devAbove0West, '#fff8b0'),
  band(devAbove0East, '#fff8b0'),
  band(devAbove0Michigan, '#fff8b0'),
  band(devAbove2West, '#ffc040'),
  band(devAbove2East, '#ffc040'),
  band(devAbove4West, '#ffa000'),
  band(devBelow4Idaho, '#ffc040'),
  band(devAbove4Colorado, '#ffa000'),
  band(devAbove4East, '#ffa000'),
  band(devAbove6West, '#ff6a00'),
  band(devAbove6Wyoming, '#ff6a00'),
  band(devAbove6Maine, '#ff6a00'),
  band(devAbove6Mass, '#ff6a00'),
  band(devAbove8West, '#e01a00'),
  band(devAbove8Arizona, '#e01a00'),
], devContourLabels, { left: 34, right: 6, top: 15 });

buildColorBar('bar-avg', avgBarColors, avgBarLabels, { left: 34, right: 7, top: 10, axis: 18 });
buildColorBar('bar-dev', devBarColors, devBarLabels, { left: 34, right: 6, top: 9, axis: 19 });
</script>
</body>
</html>
